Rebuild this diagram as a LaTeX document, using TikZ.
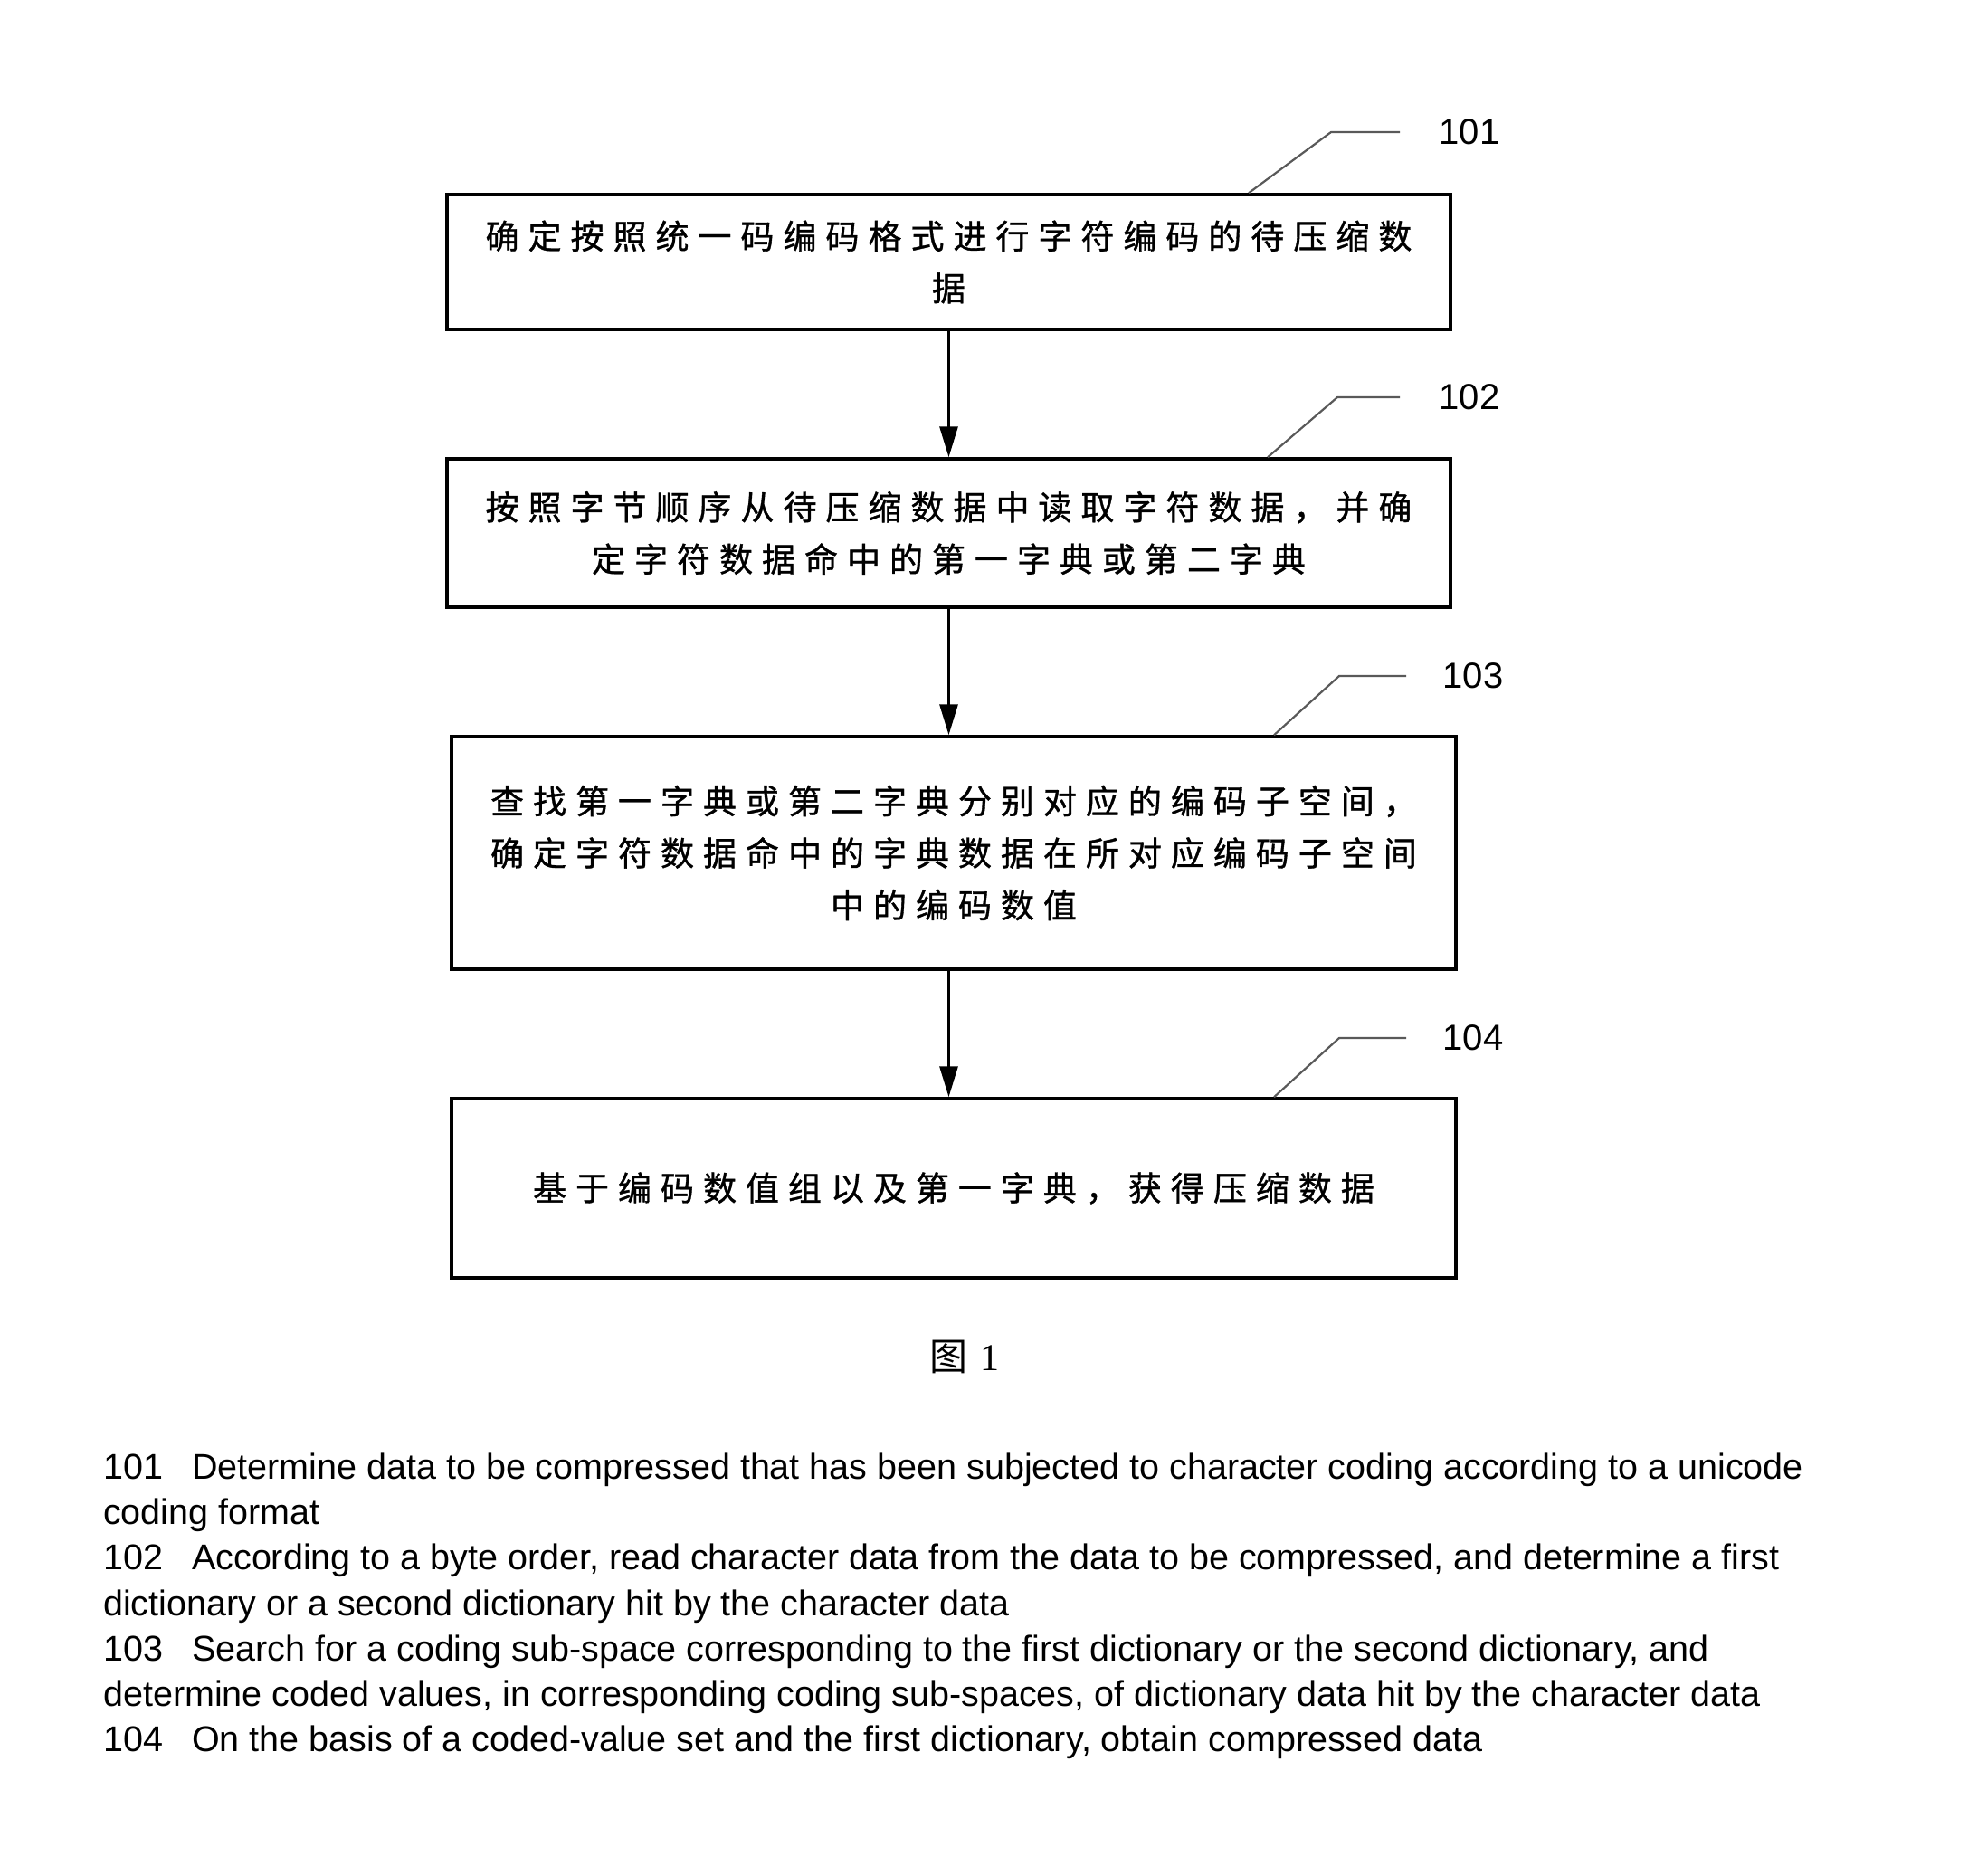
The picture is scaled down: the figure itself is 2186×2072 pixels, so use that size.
\documentclass[tikz,border=0pt]{standalone}
\usepackage{fontspec}
\setmainfont{Liberation Sans}
\newfontfamily\cjk[LetterSpace=27,FakeBold=1]{Noto Sans CJK SC}
\newfontfamily\cjkplain{Noto Sans CJK SC}
\newfontfamily\serifnum{Liberation Serif}
\usetikzlibrary{arrows.meta}
\newcommand{\refnum}[1]{\makebox[98pt][l]{#1}}
\tikzset{
  stepbox/.style={draw=black, line width=3.5pt, inner sep=0pt, align=center,
    font=\cjk\fontsize{37}{57.5}\selectfont},
  arr/.style={line width=3pt, -{Triangle[length=34pt,width=20pt]}},
  leader/.style={draw=black!65, line width=2.2pt},
  reflabel/.style={font=\fontsize{40}{40}\selectfont, inner sep=0pt},
  legend/.style={font=\fontsize{39.5}{39.5}\selectfont, anchor=base west, inner sep=0pt},
}
\begin{document}
\begin{tikzpicture}[x=1pt,y=-1pt]
\useasboundingbox[fill=white] (0,0) rectangle (2186,2072);

\node[stepbox, minimum width=1109pt, minimum height=149pt] (b1) at (1048.5,289.5)
  {确定按照统一码编码格式进行字符编码的待压缩数\\据};
\node[stepbox, minimum width=1109pt, minimum height=164pt] (b2) at (1048.5,589)
  {按照字节顺序从待压缩数据中读取字符数据，并确\\定字符数据命中的第一字典或第二字典};
\node[stepbox, minimum width=1110pt, minimum height=257pt] (b3) at (1054,942.5)
  {查找第一字典或第二字典分别对应的编码子空间，\\确定字符数据命中的字典数据在所对应编码子空间\\中的编码数值};
\node[stepbox, minimum width=1110pt, minimum height=198pt] (b4) at (1054,1313)
  {基于编码数值组以及第一字典，获得压缩数据};

\draw[arr] (b1.south) -- (b2.north);
\draw[arr] (b2.south) -- (b2.south |- b3.north);
\draw[arr] (b3.south -| b2.south) -- (b2.south |- b4.north);

\node[reflabel] (l1) at (1624,146) {101};
\node[reflabel] (l2) at (1624,439) {102};
\node[reflabel] (l3) at (1628,747) {103};
\node[reflabel] (l4) at (1628,1147) {104};

\coordinate (k1a) at (1380,215); \coordinate (k1b) at (1471,146); \coordinate (k1c) at (1547,146);
\coordinate (k2a) at (1401,507); \coordinate (k2b) at (1478,439); \coordinate (k2c) at (1547,439);
\coordinate (k3a) at (1408,814); \coordinate (k3b) at (1480,747); \coordinate (k3c) at (1554,747);
\coordinate (k4a) at (1408,1214); \coordinate (k4b) at (1480,1147); \coordinate (k4c) at (1554,1147);
\draw[leader] (k1a |- b1.north) -- (k1b) -- (k1c);
\draw[leader] (k2a |- b2.north) -- (k2b) -- (k2c);
\draw[leader] (k3a |- b3.north) -- (k3b) -- (k3c);
\draw[leader] (k4a |- b4.north) -- (k4b) -- (k4c);

\node[inner sep=0pt, font=\fontsize{42}{42}\selectfont] (cap) at (1066,1499)
  {{\cjkplain 图}\hspace{14pt}{\serifnum 1}};

\node[legend] (t1) at (114,1634) {\refnum{101}Determine data to be compressed that has been subjected to character coding according to a unicode};
\node[legend] (t2) at (114,1684) {coding format};
\node[legend] (t3) at (114,1734) {\refnum{102}According to a byte order, read character data from the data to be compressed, and determine a first};
\node[legend] (t4) at (114,1785) {dictionary or a second dictionary hit by the character data};
\node[legend] (t5) at (114,1835) {\refnum{103}Search for a coding sub-space corresponding to the first dictionary or the second dictionary, and};
\node[legend] (t6) at (114,1885) {determine coded values, in corresponding coding sub-spaces, of dictionary data hit by the character data};
\node[legend] (t7) at (114,1935) {\refnum{104}On the basis of a coded-value set and the first dictionary, obtain compressed data};
\end{tikzpicture}
\end{document}
